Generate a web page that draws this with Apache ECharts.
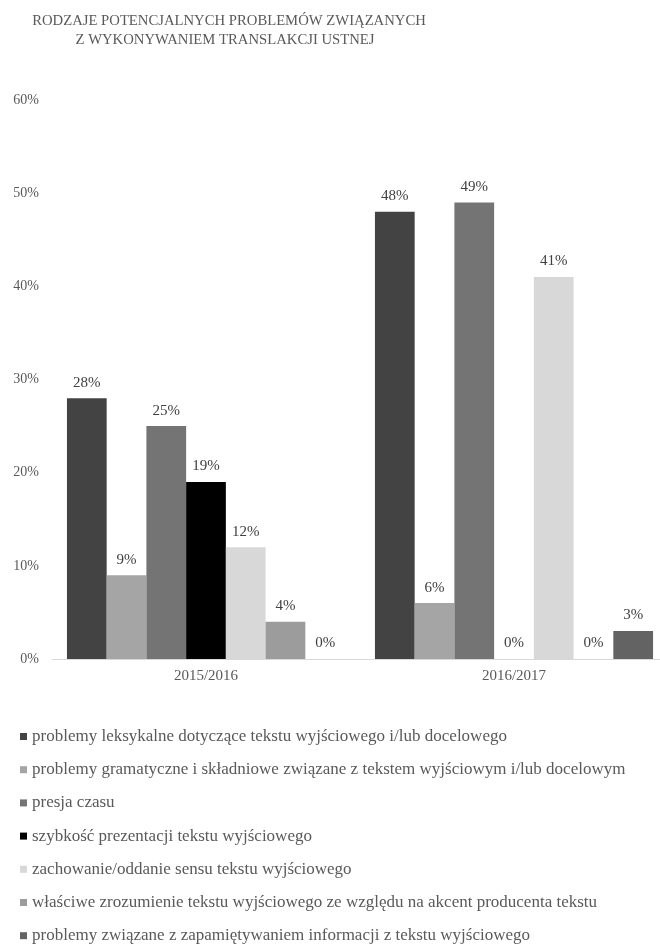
<!DOCTYPE html>
<html>
<head>
<meta charset="utf-8">
<script src="https://cdn.jsdelivr.net/npm/echarts@6/dist/echarts.min.js"></script>
<style>
html,body{margin:0;padding:0;background:#fff;overflow:hidden;}
#chart{width:672px;height:970px;}
</style>
</head>
<body>
<div id="chart"></div>
<script>
const categories = ['2015/2016', '2016/2017'];
const seriesNames = [
  'problemy leksykalne dotyczące tekstu wyjściowego i/lub docelowego',
  'problemy gramatyczne i składniowe związane z tekstem wyjściowym i/lub docelowym',
  'presja czasu',
  'szybkość prezentacji tekstu wyjściowego',
  'zachowanie/oddanie sensu tekstu wyjściowego',
  'właściwe zrozumienie tekstu wyjściowego ze względu na akcent producenta tekstu',
  'problemy związane z zapamiętywaniem informacji z tekstu wyjściowego'
];
const lexical = [28, 48];
const grammar = [9, 6];
const timePressure = [25, 49];
const speed = [19, 0];
const meaning = [12, 41];
const accent = [4, 0];
const memory = [0, 3];
const yTicks = [0, 10, 20, 30, 40, 50, 60];
const titleLines = ['RODZAJE POTENCJALNYCH PROBLEMÓW ZWIĄZANYCH', 'Z WYKONYWANIEM TRANSLAKCJI USTNEJ'];

const seriesValues = [lexical, grammar, timePressure, speed, meaning, accent, memory];
const colors = ['#434343', '#a5a5a5', '#747474', '#000000', '#d8d8d8', '#9c9c9c', '#636363'];
const serif = '"Liberation Serif", "Times New Roman", serif';

const titleStyle = {
  fontFamily: serif,
  fontSize: 14.7,
  fontWeight: 'normal',
  color: '#595959'
};

const chart = echarts.init(document.getElementById('chart'), null, {renderer: 'canvas'});
chart.setOption({
  animation: false,
  backgroundColor: '#ffffff',
  title: [
    {text: titleLines[0], left: 224, top: 8.5, textAlign: 'center', textStyle: titleStyle},
    {text: titleLines[1], left: 220, top: 27.5, textAlign: 'center', textStyle: titleStyle}
  ],
  legend: {
    orient: 'vertical',
    left: 15,
    top: 723,
    height: 240,
    itemWidth: 7,
    itemHeight: 7,
    itemGap: 16.2,
    icon: 'rect',
    data: seriesNames,
    textStyle: {
      fontFamily: serif,
      fontSize: 17,
      color: '#595959'
    }
  },
  grid: {
    left: 52,
    top: 100,
    width: 616,
    height: 559
  },
  xAxis: {
    type: 'category',
    data: categories,
    axisLine: {show: true, lineStyle: {color: '#d9d9d9', width: 1}},
    axisTick: {show: false},
    axisLabel: {
      fontFamily: serif,
      fontSize: 15,
      color: '#595959',
      margin: 10
    }
  },
  yAxis: {
    type: 'value',
    min: 0,
    max: 60,
    interval: 10,
    axisLine: {show: false},
    axisTick: {show: false},
    splitLine: {show: false},
    axisLabel: {
      formatter: function (v) { return yTicks.indexOf(v) >= 0 ? v + '%' : ''; },
      fontFamily: serif,
      fontSize: 14,
      color: '#595959',
      margin: 13
    }
  },
  series: seriesValues.map(function (vals, i) {
    return {
      name: seriesNames[i],
      type: 'bar',
      data: vals,
      barGap: '0%',
      barCategoryGap: '9.7%',
      itemStyle: {color: colors[i]},
      label: {
        show: true,
        position: 'top',
        distance: 8,
        formatter: '{c}%',
        fontFamily: serif,
        fontSize: 15,
        color: '#404040'
      }
    };
  })
});
</script>
</body>
</html>
